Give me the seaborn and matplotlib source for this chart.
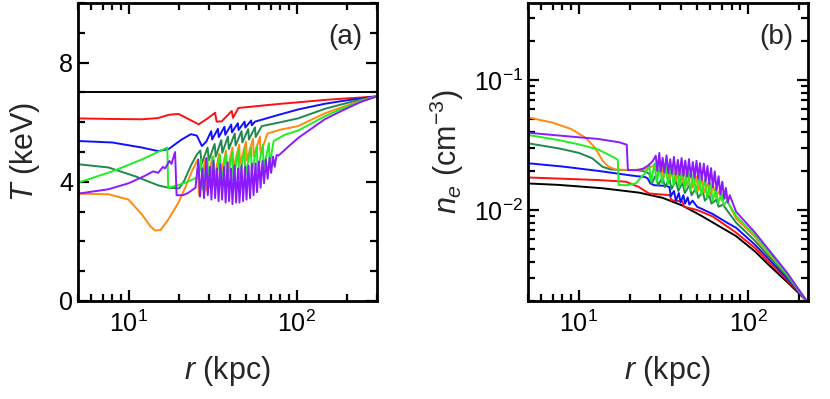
import matplotlib
matplotlib.use('Agg')
import matplotlib.pyplot as plt
import seaborn as sns
import pandas as pd
from matplotlib.ticker import MultipleLocator, LogLocator, NullFormatter

# ---------------- panel (a): temperature profiles ----------------
r_black_a = [5, 300]
t_black = [7.0, 7.0]

r_red_a = [5, 8, 12, 15, 17.3, 19.8, 22.5, 26.1, 29.9, 32.7, 33.4, 35.8, 41.1, 41.8,
           45, 60, 80, 102, 147, 185, 240, 300]
t_red = [6.13, 6.11, 6.10, 6.14, 6.25, 6.28, 6.12, 5.93, 6.15, 6.32, 6.02, 6.03, 6.38, 6.15,
         6.48, 6.55, 6.62, 6.67, 6.75, 6.79, 6.83, 6.87]

r_blue_a = [5, 8, 12, 15, 17.3, 20.7, 23.5, 25.5, 27.3, 29, 31, 31.4, 34, 34.4, 37.2, 37.6,
            40.8, 41.2, 44.7, 45.1, 49, 49.5, 53.6, 54.1, 56.5, 75, 102, 147, 185, 240, 300]
t_blue = [5.37, 5.32, 5.15, 5.03, 5.10, 5.42, 5.60, 5.55, 5.20, 5.35, 5.70, 5.42, 5.78, 5.50,
          5.85, 5.58, 5.92, 5.66, 5.97, 5.74, 6.02, 5.82, 6.06, 5.90, 6.02, 6.22, 6.43, 6.62,
          6.71, 6.80, 6.87]

r_dkgreen_a = [5, 7.6, 11, 15, 17.3, 20, 21.5, 23.5, 25.5, 26.7, 27.2, 29.5, 30, 32.5, 33,
               35.6, 36.1, 39, 39.5, 42.8, 43.3, 47, 47.5, 51.5, 52, 56.5, 57, 62, 80, 102,
               147, 185, 240, 300]
t_dkgreen = [4.59, 4.48, 4.18, 3.88, 3.80, 3.78, 4.05, 4.55, 4.92, 5.05, 4.60, 5.15, 4.72,
             5.27, 4.85, 5.40, 4.97, 5.52, 5.10, 5.62, 5.22, 5.70, 5.32, 5.77, 5.42, 5.83,
             5.50, 5.87, 6.00, 6.13, 6.45, 6.60, 6.76, 6.87]

r_orange_a = [5, 7.6, 10, 12, 13.5, 14.4, 15.5, 17.3, 19.8, 21.7, 24, 25.8, 26.2, 28.5, 29,
              31.5, 32, 34.5, 35, 38, 38.5, 41.5, 42, 45.5, 46, 50, 50.5, 55, 55.5, 60.5, 61,
              67, 80, 102, 147, 185, 240, 300]
t_orange = [3.60, 3.58, 3.40, 2.90, 2.50, 2.36, 2.38, 2.75, 3.30, 3.80, 4.40, 4.75, 3.55,
            4.75, 3.70, 4.85, 3.90, 4.95, 4.10, 5.05, 4.30, 5.15, 4.45, 5.25, 4.60, 5.35, 4.72,
            5.45, 4.85, 5.52, 4.95, 5.62, 5.75, 5.87, 6.30, 6.50, 6.72, 6.87]

r_green_a = [5, 8, 12, 17.0, 17.2, 19.5, 22, 24.5, 26, 27, 27.5, 29.5, 30, 32, 32.5, 35,
             35.5, 38, 38.5, 41.5, 42, 45, 45.5, 49, 49.5, 53.5, 54, 58, 58.5, 63, 63.5,
             68.5, 69, 73, 85, 102, 147, 185, 240, 300]
t_green = [3.97, 4.35, 4.75, 5.15, 3.80, 3.88, 3.98, 4.10, 4.15, 4.75, 3.75, 4.80, 3.80,
           4.85, 3.85, 4.90, 3.90, 4.95, 3.97, 5.00, 4.05, 5.05, 4.12, 5.10, 4.20, 5.15,
           4.28, 5.20, 4.36, 5.25, 4.45, 5.30, 4.55, 5.37, 5.58, 5.72, 6.20, 6.45, 6.70, 6.87]

r_purple_a = [5, 7.6, 10, 12.5, 14, 15, 16, 16.5, 17.5, 18, 18.9, 19.3, 21, 22.5, 25.0,
              26.0, 26.6, 27.5, 28.1, 29.0, 29.6, 30.5, 31.1, 32.0, 32.7, 33.6, 34.3, 35.2,
              36.0, 37.0, 37.8, 38.8, 39.6, 40.7, 41.5, 42.7, 43.6, 44.8, 45.7, 47.0, 48.0,
              49.3, 50.3, 51.7, 52.8, 54.2, 55.4, 56.9, 58.1, 59.7, 61.0, 62.6, 64.0, 65.7,
              67.2, 69.0, 70.5, 72.4, 74.0, 76.0, 78, 90, 102, 120, 147, 185, 240, 300]
t_purple = [3.60, 3.75, 3.95, 4.20, 4.35, 4.30, 4.50, 4.45, 4.70, 4.60, 5.00, 3.55, 3.55,
            3.62, 3.80, 4.75, 3.50, 4.45, 3.45, 4.80, 3.55, 4.50, 3.40, 4.70, 3.45, 4.45,
            3.35, 4.60, 3.40, 4.50, 3.30, 4.65, 3.35, 4.45, 3.25, 4.55, 3.30, 4.45, 3.30,
            4.55, 3.35, 4.50, 3.40, 4.55, 3.45, 4.60, 3.55, 4.62, 3.65, 4.68, 3.80, 4.70,
            3.95, 4.75, 4.10, 4.80, 4.30, 4.85, 4.50, 4.90, 4.88, 5.20, 5.47, 5.75, 6.10,
            6.38, 6.68, 6.87]

# ---------------- panel (b): density profiles ----------------
r_black_b = [5, 7.6, 13.8, 22.7, 31.3, 41.1, 54, 70, 85, 110, 135, 170, 222]
n_black = [0.0160, 0.0156, 0.0147, 0.0136, 0.0124, 0.0108, 0.0089, 0.0073, 0.0063, 0.0048,
           0.0037, 0.0028, 0.0020]

r_red_b = [5, 8, 13, 19, 22.7, 26, 30, 34.5, 35.2, 41, 41.8, 50, 62, 75, 85, 110, 135, 170, 222]
n_red = [0.0178, 0.0174, 0.0170, 0.0165, 0.0150, 0.0134, 0.0132, 0.0130, 0.0119, 0.0116,
         0.0106, 0.0100, 0.0089, 0.0075, 0.0067, 0.0051, 0.0039, 0.0029, 0.0020]

r_blue_b = [5, 8, 13, 19.4, 22, 24.5, 25.5, 26.5, 28, 33, 34.3, 35, 36.5, 37.5, 39, 40, 41.5,
            42.5, 44, 45, 47, 50, 62, 75, 85, 110, 135, 170, 222]
n_blue = [0.0229, 0.0216, 0.0200, 0.0186, 0.0182, 0.0180, 0.0175, 0.0160, 0.0155, 0.0153,
          0.0150, 0.0128, 0.0140, 0.0118, 0.0135, 0.0114, 0.0130, 0.0112, 0.0125, 0.0110,
          0.0118, 0.0106, 0.0093, 0.0080, 0.0073, 0.0054, 0.0041, 0.0030, 0.0020]

r_dkgreen_b = [5, 7.6, 10, 12, 13.8, 15.5, 18, 22, 24.5, 26.1, 27, 28.5, 29.5, 31.3, 32.3,
               34.3, 35.3, 37.5, 38.7, 41, 42.3, 45, 46.4, 49.3, 50.8, 54, 55.6, 59, 60.8,
               65, 67, 71, 85, 110, 135, 170, 222]
n_dkgreen = [0.0326, 0.0298, 0.0275, 0.0250, 0.0215, 0.0205, 0.0203, 0.0203, 0.0198,
             0.0190, 0.0160, 0.0185, 0.0155, 0.0180, 0.0150, 0.0175, 0.0145, 0.0168,
             0.0140, 0.0162, 0.0135, 0.0155, 0.0130, 0.0148, 0.0124, 0.0140, 0.0118,
             0.0130, 0.0112, 0.0120, 0.0106, 0.0110, 0.0080, 0.0058, 0.0043, 0.0031, 0.0020]

r_orange_b = [5, 7, 9, 10.96, 12.5, 13.8, 15, 16.5, 20, 24, 26, 28.5, 29.4, 30.8, 31.8,
              33.3, 34.4, 36, 37.2, 39, 40.3, 42.2, 43.6, 45.7, 47.2, 49.4, 51, 53.4, 55.2,
              57.8, 59.7, 62.5, 64.5, 67.6, 69.8, 73, 85, 110, 135, 170, 222]
n_orange = [0.0516, 0.0470, 0.0420, 0.0360, 0.0300, 0.0240, 0.0215, 0.0205, 0.0203, 0.0205,
            0.0210, 0.0225, 0.0185, 0.0222, 0.0178, 0.0218, 0.0172, 0.0212, 0.0166, 0.0205,
            0.0160, 0.0198, 0.0154, 0.0190, 0.0148, 0.0182, 0.0142, 0.0172, 0.0136, 0.0162,
            0.0130, 0.0152, 0.0124, 0.0140, 0.0118, 0.0128, 0.0086, 0.0062, 0.0045, 0.0032,
            0.0020]

r_green_b = [5, 7.6, 10, 13, 16.5, 17.0, 17.2, 19, 21.7, 23, 24.5, 25.5, 26, 26.8, 28, 28.9,
             30.2, 31.1, 32.6, 33.6, 35.2, 36.3, 38, 39.2, 41, 42.3, 44.2, 45.6, 47.7, 49.2,
             51.5, 53.1, 55.6, 57.3, 60, 61.8, 64.7, 66.7, 69.8, 72, 75, 85, 110, 135, 170, 222]
n_green = [0.0378, 0.0345, 0.0320, 0.0292, 0.0250, 0.0243, 0.0156, 0.0155, 0.0160, 0.0175,
           0.0190, 0.0205, 0.0225, 0.0165, 0.0228, 0.0163, 0.0225, 0.0160, 0.0222, 0.0158,
           0.0218, 0.0155, 0.0213, 0.0150, 0.0208, 0.0146, 0.0200, 0.0141, 0.0192, 0.0136,
           0.0183, 0.0130, 0.0172, 0.0124, 0.0160, 0.0118, 0.0148, 0.0112, 0.0135, 0.0108,
           0.0118, 0.0090, 0.0064, 0.0046, 0.0032, 0.0020]

r_purple_b = [5, 8, 13, 17.3, 19.2, 19.5, 22, 24, 26, 27.5, 28.5, 29.1, 29.9, 30.5, 31.3,
              32, 33, 33.8, 34.7, 35.5, 36.5, 37.4, 38.5, 39.4, 40.5, 41.5, 42.6, 43.7,
              44.8, 45.9, 47.2, 48.4, 49.6, 50.8, 52.0, 53.3, 54.8, 56.2, 57.6, 59.0, 60.5,
              62, 63.6, 65.2, 67, 68.7, 70.5, 72.3, 74, 76, 78, 85, 110, 135, 170, 222]
n_purple = [0.0393, 0.0372, 0.0352, 0.0332, 0.0318, 0.0203, 0.0202, 0.0208, 0.0222, 0.0240,
            0.0262, 0.0200, 0.0275, 0.0198, 0.0252, 0.0195, 0.0263, 0.0192, 0.0246, 0.0190,
            0.0256, 0.0188, 0.0243, 0.0186, 0.0251, 0.0184, 0.0240, 0.0182, 0.0246, 0.0180,
            0.0234, 0.0177, 0.0239, 0.0174, 0.0229, 0.0170, 0.0227, 0.0165, 0.0218, 0.0158,
            0.0210, 0.0150, 0.0198, 0.0142, 0.0182, 0.0132, 0.0165, 0.0122, 0.0148, 0.0114,
            0.0130, 0.0097, 0.0067, 0.0048, 0.0033, 0.0020]

colores = {'black': '#000000', 'red': '#ff1010', 'blue': '#1010ff', 'dkgreen': '#1f8a4c',
           'orange': '#ff8a10', 'green': '#22ee22', 'purple': '#8c1aff'}
orden = ['black', 'red', 'blue', 'dkgreen', 'orange', 'green', 'purple']

curvas_a = {'black': (r_black_a, t_black), 'red': (r_red_a, t_red), 'blue': (r_blue_a, t_blue),
            'dkgreen': (r_dkgreen_a, t_dkgreen), 'orange': (r_orange_a, t_orange),
            'green': (r_green_a, t_green), 'purple': (r_purple_a, t_purple)}
curvas_b = {'black': (r_black_b, n_black), 'red': (r_red_b, n_red), 'blue': (r_blue_b, n_blue),
            'dkgreen': (r_dkgreen_b, n_dkgreen), 'orange': (r_orange_b, n_orange),
            'green': (r_green_b, n_green), 'purple': (r_purple_b, n_purple)}


def a_tabla(curvas):
    filas = []
    for nombre, (r, v) in curvas.items():
        for i, (x, y) in enumerate(zip(r, v)):
            filas.append({'modelo': nombre, 'r': x, 'v': y, 'i': i})
    return pd.DataFrame(filas)


df_a = a_tabla(curvas_a)
df_b = a_tabla(curvas_b)

sns.set_theme(style='ticks')
plt.rcParams['font.family'] = ['Liberation Sans', 'DejaVu Sans']
plt.rcParams['mathtext.fontset'] = 'custom'
plt.rcParams['mathtext.rm'] = 'Liberation Sans'
plt.rcParams['mathtext.it'] = 'Liberation Sans:italic'
plt.rcParams['axes.linewidth'] = 2.0

fig = plt.figure(figsize=(8.3, 3.99), dpi=100)
ax1 = fig.add_axes([0.094, 0.246, 0.360, 0.746])
ax2 = fig.add_axes([0.636, 0.246, 0.337, 0.746])

for ax, df in [(ax1, df_a), (ax2, df_b)]:
    sns.lineplot(data=df, x='r', y='v', hue='modelo', hue_order=orden, palette=colores,
                 estimator=None, sort=False, units='modelo', linewidth=1.4, legend=False, ax=ax)
    ax.set_xscale('log')
    ax.xaxis.set_minor_locator(LogLocator(base=10, subs=range(2, 10)))
    ax.xaxis.set_minor_formatter(NullFormatter())
    ax.tick_params(which='both', direction='in', top=True, right=True, labelsize=18,
                   width=1.6, colors='black')
    ax.tick_params(which='major', length=8)
    ax.tick_params(which='minor', length=5)
    ax.tick_params(axis='x', which='major', pad=7)
    ax.set_xlabel(r'$r$ (kpc)', fontsize=22, labelpad=12)
    for s in ax.spines.values():
        s.set_color('black')

ax1.set_xlim(5, 300)
ax1.set_ylim(0, 10)
ax1.yaxis.set_major_locator(MultipleLocator(4))
ax1.yaxis.set_minor_locator(MultipleLocator(1))
ax1.set_ylabel(r'$T$ (keV)', fontsize=22, labelpad=12)
ax1.text(0.95, 0.93, '(a)', transform=ax1.transAxes, ha='right', va='top', fontsize=20)

ax2.set_xlim(5, 225)
ax2.set_yscale('log')
ax2.set_ylim(0.002, 0.39)
ax2.yaxis.set_minor_locator(LogLocator(base=10, subs=range(2, 10)))
ax2.yaxis.set_minor_formatter(NullFormatter())
ax2.set_ylabel(r'$n_e$ (cm$^{-3}$)', fontsize=22, labelpad=6)
ax2.text(0.95, 0.93, '(b)', transform=ax2.transAxes, ha='right', va='top', fontsize=20)

fig.savefig('out.png', dpi=100)
